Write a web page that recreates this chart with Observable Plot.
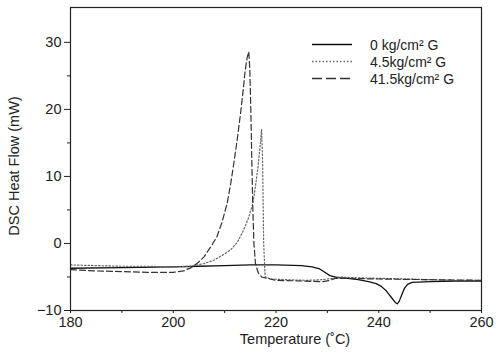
<!DOCTYPE html>
<html>
<head>
<meta charset="utf-8">
<script src="https://cdn.jsdelivr.net/npm/d3@7"></script>
<script src="https://cdn.jsdelivr.net/npm/@observablehq/plot@0.6"></script>
<style>
  html, body { margin: 0; padding: 0; background: #fff; }
  #wrap { position: relative; width: 498px; height: 354px; font-family: "Liberation Sans", Arial, sans-serif; }
  #legend { position: absolute; left: 312px; top: 36px; }
  #legend .row { display: flex; align-items: center; height: 17px; }
  #legend svg { width: 40px; height: 17px; margin-right: 18px; }
  #legend span { font-size: 14px; color: #222; white-space: nowrap; }
</style>
</head>
<body>
<div id="wrap"></div>
<script>
// Series labels
const seriesNames = ["0 kg/cm² G", "4.5kg/cm² G", "41.5kg/cm² G"];

// 0 kg/cm2 G (solid)
const t0 = [180, 190, 200, 205, 210, 215, 220, 225, 227, 228.5, 229.5, 230.5, 232, 234, 236, 238, 239.5, 240.5, 241.5, 242.5, 243.2, 243.6, 244, 244.5, 245, 245.6, 246.5, 250, 255, 260];
const v0 = [-3.7, -3.6, -3.5, -3.4, -3.3, -3.2, -3.2, -3.3, -3.5, -3.8, -4.3, -4.8, -5.1, -5.2, -5.4, -5.7, -6.0, -6.4, -7.1, -8.1, -8.8, -9.0, -8.6, -7.6, -6.7, -6.1, -5.8, -5.7, -5.6, -5.6];

// 4.5 kg/cm2 G (dotted)
const t1 = [180, 185, 190, 195, 200, 203.3, 206, 207.9, 209.5, 211.1, 212.5, 213.7, 214.7, 215.5, 216, 216.5, 216.9, 217.2, 217.4, 217.5, 217.6, 217.8, 217.9, 219, 222, 226, 229, 231, 232, 235, 240, 245, 250, 255, 260];
const v1 = [-3.2, -3.3, -3.4, -3.4, -3.5, -3.4, -3.0, -2.5, -1.8, -1.0, 0.2, 2.0, 3.9, 6.0, 8.5, 11.5, 14.5, 17.0, 12.0, 6.0, 0.0, -3.5, -5.0, -5.3, -5.4, -5.5, -5.4, -5.2, -5.0, -5.1, -5.2, -5.3, -5.4, -5.5, -5.5];

// 41.5 kg/cm2 G (dashed)
const t2 = [180, 185, 190, 195, 200, 202, 203.5, 204.6, 206, 207.3, 208.5, 209.5, 210.5, 211.2, 211.8, 212.5, 213.1, 213.6, 214.0, 214.4, 214.7, 214.9, 215.1, 215.3, 215.5, 215.7, 216.0, 216.5, 217.2, 218.3, 220, 225, 229, 230.5, 231.5, 233, 240, 250, 260];
const v2 = [-3.9, -4.1, -4.2, -4.3, -4.3, -4.1, -3.6, -3.0, -2.0, -0.5, 1.0, 3.2, 6.0, 9.0, 12.0, 15.8, 19.4, 22.8, 25.8, 27.8, 28.6, 26.0, 20.0, 12.0, 5.0, 0.0, -3.0, -4.3, -5.0, -5.2, -5.5, -5.6, -5.7, -5.5, -5.2, -5.2, -5.3, -5.4, -5.5];

// Axis ticks
const xTicks = [180, 200, 220, 240, 260];
const xMinor = [190, 210, 230, 250];
const yTicks = [-10, 0, 10, 20, 30];
const yMinor = [-5, 5, 15, 25];

const styles = [
  {stroke: "#111", dash: null, width: 1.3},
  {stroke: "#666", dash: "1.5,2", width: 1.2},
  {stroke: "#333", dash: "6,3", width: 1.2}
];

const toRows = (ts, vs) => ts.map((t, i) => ({t, v: vs[i]}));
const series = [toRows(t0, v0), toRows(t1, v1), toRows(t2, v2)];

const chart = Plot.plot({
  width: 498,
  height: 354,
  marginLeft: 70,
  marginRight: 17,
  marginTop: 7,
  marginBottom: 44,
  style: {fontFamily: "Liberation Sans, Arial, sans-serif", fontSize: "14.5px", color: "#222", background: "#fff"},
  x: {domain: [180, 260]},
  y: {domain: [-10, 35.2]},
  marks: [
    Plot.axisX({ticks: xTicks, tickSize: 3, tickPadding: 3, label: null}),
    Plot.axisX({ticks: xMinor, tickSize: 3, text: null, label: null}),
    Plot.axisY({ticks: yTicks, tickSize: 6, tickPadding: 3, label: null}),
    Plot.axisY({ticks: yMinor, tickSize: 3, text: null, label: null}),
    ...series.map((rows, i) => Plot.line(rows, {
      x: "t", y: "v",
      stroke: styles[i].stroke,
      strokeWidth: styles[i].width,
      strokeDasharray: styles[i].dash
    })),
    Plot.frame({stroke: "#222", strokeWidth: 1.2}),
    Plot.text(["DSC Heat Flow (mW)"], {text: d => d, frameAnchor: "left", textAnchor: "middle", rotate: -90, dx: -56, dy: 7, fontSize: 14.5, fill: "#222"}),
    Plot.text(["Temperature (˚C)"], {text: d => d, frameAnchor: "bottom", textAnchor: "middle", dx: 19, dy: 33, fontSize: 14.5, fill: "#222"})
  ]
});

const wrap = document.getElementById("wrap");
wrap.appendChild(chart);

// Legend (inside plot, top right)
const legend = document.createElement("div");
legend.id = "legend";
seriesNames.forEach((name, i) => {
  const row = document.createElement("div");
  row.className = "row";
  const s = styles[i];
  row.innerHTML = `<svg viewBox="0 0 40 17"><line x1="0" x2="40" y1="8.5" y2="8.5" stroke="${s.stroke}" stroke-width="${s.width + 0.2}" ${s.dash ? `stroke-dasharray="${i === 2 ? "10,4" : s.dash}"` : ""}/></svg><span>${name}</span>`;
  legend.appendChild(row);
});
wrap.appendChild(legend);
</script>
</body>
</html>
